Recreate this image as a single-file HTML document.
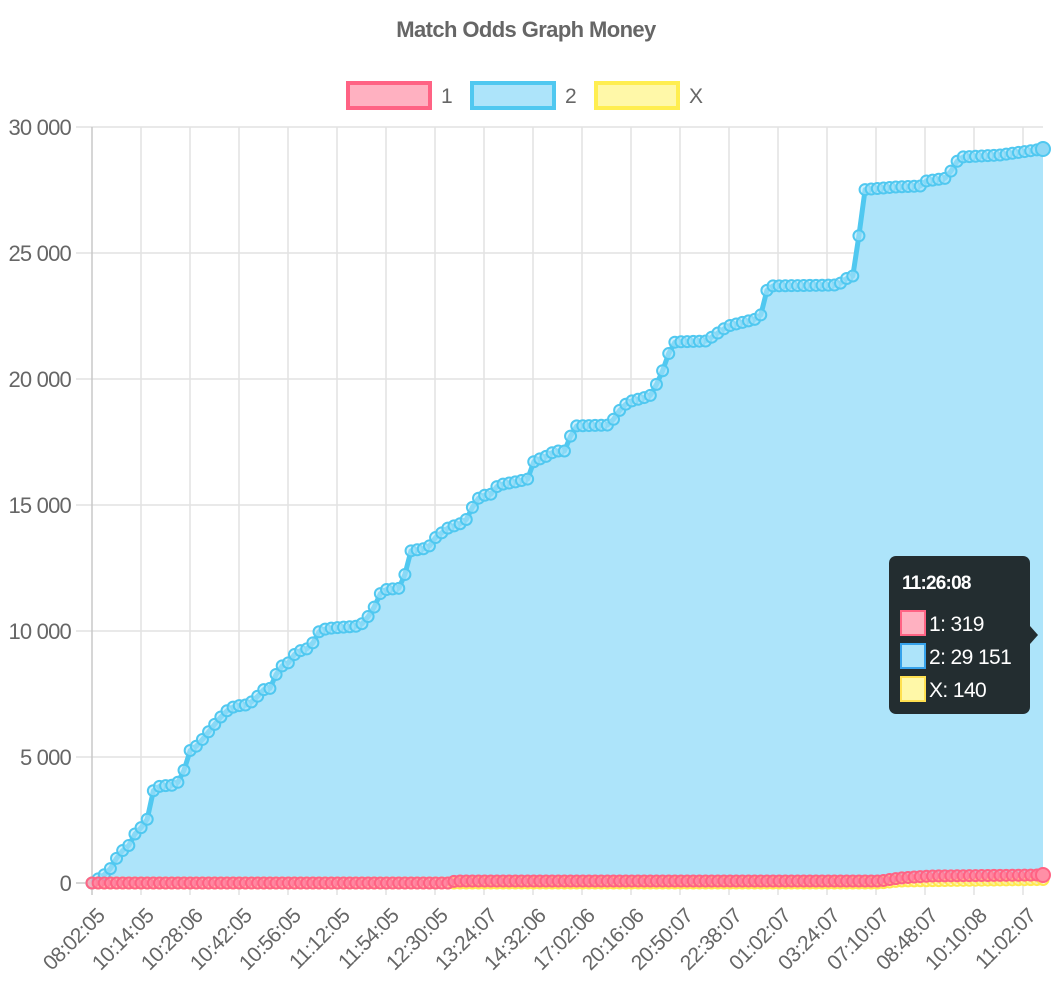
<!DOCTYPE html>
<html><head><meta charset="utf-8"><style>
html,body{margin:0;padding:0;background:#fff;width:1052px;height:998px;overflow:hidden}
svg{display:block;font-family:"Liberation Sans",Arial,sans-serif}
</style></head><body>
<svg id="s" width="1052" height="998" xmlns="http://www.w3.org/2000/svg">
<text x="526" y="37" text-anchor="middle" font-size="22" font-weight="bold" fill="#666" letter-spacing="-0.6">Match Odds Graph Money</text>
<rect x="348" y="83" width="82" height="25" fill="#ffb1c1" stroke="#ff6384" stroke-width="4"/>
<text x="441" y="103" font-size="21" fill="#666">1</text>
<rect x="472" y="83" width="82" height="25" fill="#ade4fa" stroke="#50c8f0" stroke-width="4"/>
<text x="565" y="103" font-size="21" fill="#666">2</text>
<rect x="596" y="83" width="82" height="25" fill="#fff8a8" stroke="#ffee50" stroke-width="4"/>
<text x="689" y="103" font-size="21" fill="#666">X</text>
<g id="grid"></g>
<g id="data"></g>
<g>
<rect x="889" y="556" width="141" height="158" rx="7" fill="#232d30"/>
<path d="M1030 626 L1038 635 L1030 644 Z" fill="#232d30"/>
<text x="902" y="589" font-size="19" font-weight="bold" fill="#fff" letter-spacing="-0.8">11:26:08</text>
<rect x="901" y="611" width="24" height="24" fill="#ffb1c1" stroke="#ff6384" stroke-width="2"/>
<text x="929" y="631" font-size="21" fill="#fff" letter-spacing="-0.6">1: 319</text>
<rect x="901" y="644" width="24" height="24" fill="#ade4fa" stroke="#36a2eb" stroke-width="2"/>
<text x="929" y="664" font-size="21" fill="#fff" letter-spacing="-0.6">2: 29 151</text>
<rect x="901" y="677" width="24" height="24" fill="#fff8a8" stroke="#ffe050" stroke-width="2"/>
<text x="929" y="697" font-size="21" fill="#fff" letter-spacing="-0.6">X: 140</text>
</g>
</svg>
<script>
var NS="http://www.w3.org/2000/svg";
function el(p,t,a,txt){var e=document.createElementNS(NS,t);for(var k in a)e.setAttribute(k,a[k]);if(txt!=null)e.textContent=txt;p.appendChild(e);return e;}
var g=document.getElementById('grid'),d=document.getElementById('data');
var ylab=["0","5 000","10 000","15 000","20 000","25 000","30 000"];
for(var i=0;i<7;i++){var y=883-126*i;el(g,'line',{x1:76,x2:1043,y1:y,y2:y,stroke:i==0?'#c8c8c8':'#e2e2e2','stroke-width':1.5});
el(g,'text',{x:71,y:y+8,'text-anchor':'end','font-size':22,fill:'#666','letter-spacing':'-0.8'},ylab[i]);}
var xl=["08:02:05","10:14:05","10:28:06","10:42:05","10:56:05","11:12:05","11:54:05","12:30:05","13:24:07","14:32:06","17:02:06","20:16:06","20:50:07","22:38:07","01:02:07","03:24:07","07:10:07","08:48:07","10:10:08","11:02:07"];
for(var i=0;i<20;i++){var x=92+49*i;el(g,'line',{x1:x,x2:x,y1:127,y2:895,stroke:i==0?'#c8c8c8':'#e2e2e2','stroke-width':1.5});
el(g,'text',{x:0,y:0,'text-anchor':'end','font-size':21,fill:'#666','letter-spacing':'-0.6',transform:'translate('+(x+14)+',917) rotate(-45)'},xl[i]);}
var wp=[[92,883],[104,875],[113,866],[119,853],[128,847],[136,832],[143,826],[148,818],[153,791],[160,786],[176,785],[183,775],[188,752],[198,745],[210,730],[225,712],[235,706],[246,705],[255,700],[262,690],[272,688],[278,668],[290,662],[296,652],[310,648],[320,630],[332,628],[360,626],[372,612],[382,590],[402,588],[410,551],[428,548],[435,538],[448,528],[465,522],[472,508],[480,496],[492,494],[498,485],[515,482],[528,479],[534,461],[545,457],[555,451],[567,451],[573,426],[610,425],[618,412],[628,402],[650,396],[660,378],[670,350],[675,342],[706,341],[715,335],[728,326],[760,318],[768,286],[838,285],[850,276],[858,276],[860,190],[895,187],[921,186],[926,181],[948,178],[954,164],[962,157],[1000,155],[1043,149]];
function interp(w,x){for(var i=1;i<w.length;i++){if(x<=w[i][0]){var a=w[i-1],b=w[i];return a[1]+(b[1]-a[1])*(x-a[0])/(b[0]-a[0]);}}return w[w.length-1][1];}
var red=[[92,883],[450,883],[455,881],[880,881],[900,878],[930,876],[1043,875]];
var yel=[[92,883],[880,883],[900,881],[1043,879.5]];
var N=156,st=(1043-92)/(N-1);
function pts(w){var a=[];for(var i=0;i<N;i++){var x=92+st*i;a.push([x,interp(w,x)]);}return a;}
var B=pts(wp),R=pts(red),Y=pts(yel);
function path(a){return a.map(function(p,i){return (i?'L':'M')+p[0].toFixed(1)+' '+p[1].toFixed(1);}).join(' ');}
el(d,'path',{d:path(B)+' L1043 883 L92 883 Z',fill:'#ade4fa'});
function series(a,stroke,fill){el(d,'path',{d:path(a),fill:'none',stroke:stroke,'stroke-width':5,'stroke-linejoin':'round'});
a.forEach(function(p){el(d,'circle',{cx:p[0],cy:p[1],r:5.5,fill:fill,stroke:stroke,'stroke-width':2,'fill-opacity':0.6});});}
series(Y,'#ffe850','#fff8a8');
series(B,'#50c8f0','#ade4fa');
series(R,'#ff6384','#ff8fa6');
el(d,'circle',{cx:1043,cy:149,r:7,fill:'#8fd8f5',stroke:'#50c8f0','stroke-width':2});
el(d,'circle',{cx:1043,cy:875,r:7,fill:'#ff8fa6',stroke:'#ff6384','stroke-width':2});
</script>
</body></html>
